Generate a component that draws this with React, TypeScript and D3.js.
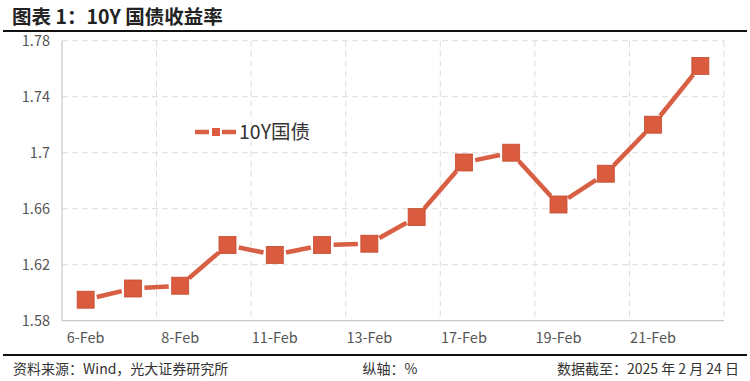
import React from "react";
import * as d3 from "d3";

const dates = ["6-Feb","7-Feb","8-Feb","10-Feb","11-Feb","12-Feb","13-Feb","14-Feb","17-Feb","18-Feb","19-Feb","20-Feb","21-Feb","24-Feb"];
const yields = [1.595,1.603,1.605,1.634,1.627,1.634,1.635,1.654,1.693,1.700,1.663,1.685,1.720,1.762];
const yTicks = [1.58,1.62,1.66,1.7,1.74,1.78];
const seriesName = "10Y国债";
const title = "图表 1：10Y 国债收益率";
const sourceText = "资料来源：Wind，光大证券研究所";
const axisNote = "纵轴：%";
const dateNote = "数据截至：2025 年 2 月 24 日";

const W = 750, H = 381;
const left = 62, right = 724, top = 40.7, bottom = 320.7;
const lineColor = "#D85F43";
const markerColor = "#DA5B3E";
const markerStroke = "#C44A30";
const font = "'Noto Sans CJK SC','Noto Sans',sans-serif";

export default function App() {
  const x = d3.scaleBand<string>().domain(dates).range([left, right]);
  const y = d3.scaleLinear().domain([1.58, 1.78]).range([bottom, top]);
  const cx = (d: string) => (x(d) as number) + x.bandwidth() / 2;
  const pts = dates.map((d, i) => [cx(d), y(yields[i])] as [number, number]);
  const ms = 17;
  const gap = ms / 2 + 3;
  const segs = pts.slice(1).map((p, i) => {
    const a = pts[i];
    const dx = p[0] - a[0], dy = p[1] - a[1];
    const len = Math.hypot(dx, dy);
    const ux = dx / len, uy = dy / len;
    return [a[0] + ux * gap, a[1] + uy * gap, p[0] - ux * gap, p[1] - uy * gap];
  });
  const vGrid = dates.filter((_, i) => i % 2 === 0).map(d => x(d) as number).slice(1).concat([right]);
  const labelDates = dates.filter((_, i) => i % 2 === 0);
  const lineGen = d3.line();
  return (
    <svg width={W} height={H} style={{ position: "absolute", left: 0, top: 0, background: "#fff" }} fontFamily={font}>
      <text x={12} y={23.5} fontSize={19.5} fontWeight={700} fill="#222">{title}</text>
      <line x1={3} x2={747} y1={31} y2={31} stroke="#111" strokeWidth={2} />
      {yTicks.map(t => (
        <g key={t}>
          {t > 1.58 && <line x1={left} x2={right} y1={y(t)} y2={y(t)} stroke="#dcdcdc" strokeWidth={1} strokeDasharray="6,4" />}
          <text x={50} y={y(t) + 5} fontSize={14.5} fill="#555" textAnchor="end">{String(t)}</text>
        </g>
      ))}
      {vGrid.map((v, i) => (
        <line key={i} x1={v} x2={v} y1={top} y2={bottom} stroke="#dcdcdc" strokeWidth={1} strokeDasharray="6,4" />
      ))}
      <line x1={left} x2={left} y1={top} y2={bottom} stroke="#c8c8c8" strokeWidth={1.2} />
      <line x1={left} x2={right} y1={bottom} y2={bottom} stroke="#c8c8c8" strokeWidth={1.2} />
      {labelDates.map(d => (
        <text key={d} x={cx(d)} y={bottom + 22} fontSize={14.5} fill="#555" textAnchor="middle">{d}</text>
      ))}
      {segs.map((s, i) => (
        <path key={i} d={lineGen([[s[0], s[1]], [s[2], s[3]]]) as string} stroke={lineColor} strokeWidth={4.5} fill="none" />
      ))}
      {pts.map((p, i) => (
        <rect key={i} x={p[0] - ms / 2} y={p[1] - ms / 2} width={ms} height={ms} fill={markerColor} stroke={markerStroke} strokeWidth={0.8} />
      ))}
      <g>
        <line x1={195} x2={209} y1={132} y2={132} stroke={lineColor} strokeWidth={4.5} />
        <line x1={222} x2={236} y1={132} y2={132} stroke={lineColor} strokeWidth={4.5} />
        <rect x={212} y={128} width={8} height={8} fill={markerColor} />
        <text x={239} y={139} fontSize={19.5} fill="#333">{seriesName}</text>
      </g>
      <line x1={3} x2={747} y1={355} y2={355} stroke="#111" strokeWidth={2} />
      <text x={13} y={374} fontSize={14} fill="#333">{sourceText}</text>
      <text x={390} y={374} fontSize={14} fill="#333" textAnchor="middle">{axisNote}</text>
      <text x={739} y={374} fontSize={14} fill="#333" textAnchor="end">{dateNote}</text>
    </svg>
  );
}
